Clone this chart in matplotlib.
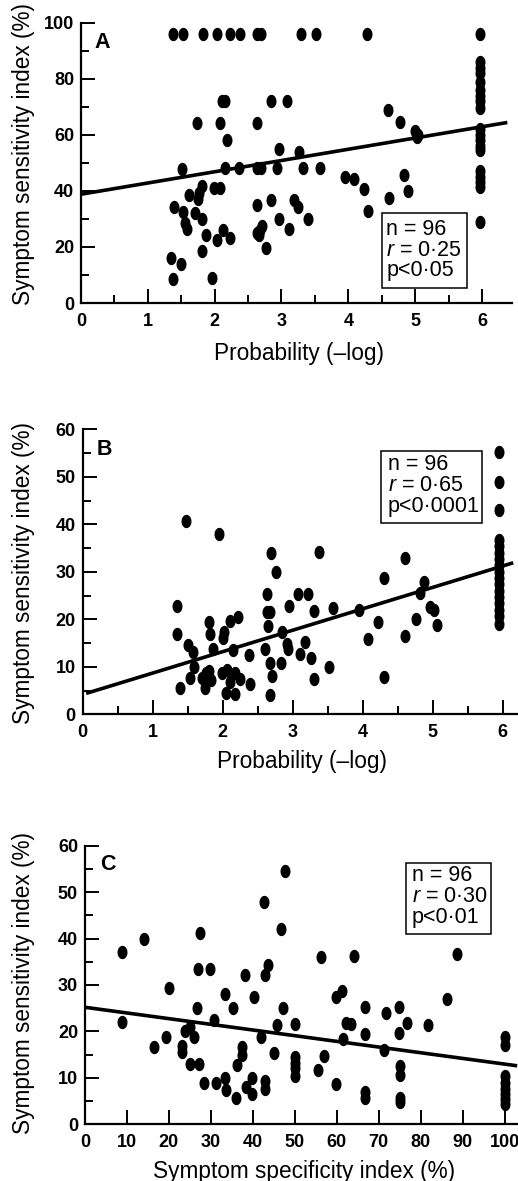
import numpy as np
import matplotlib
matplotlib.use('Agg')
import matplotlib.pyplot as plt
from matplotlib.ticker import MultipleLocator
from matplotlib.patches import Rectangle

plt.rcParams['font.family'] = ['Liberation Sans', 'DejaVu Sans']
plt.rcParams['mathtext.fontset'] = 'custom'
plt.rcParams['mathtext.it'] = 'Liberation Sans:italic'
plt.rcParams['mathtext.rm'] = 'Liberation Sans'

# ---------------- Panel A data ----------------
a_top_x = [1.37, 1.52, 1.82, 2.04, 2.23, 2.38, 2.64, 2.70, 3.29, 3.52, 4.28]
a_top_y = [95.8] * len(a_top_x)
a_col_y = [96, 86, 84, 82, 79, 76, 74, 72, 69.5, 62, 60, 58, 56, 54.5,
           47, 45, 43, 41.5, 29]
a_col_x = [5.97] * len(a_col_y)
a_x = [1.39, 1.34, 1.37, 1.49, 1.51, 1.53, 1.56, 1.59, 1.62, 1.71, 1.74, 1.75,
       1.77, 1.81, 1.81, 1.87, 1.81, 1.96, 1.99, 2.08, 2.04, 2.08, 2.11, 2.16,
       2.12, 2.18, 2.16, 2.23, 2.37, 2.63, 2.63, 2.69, 2.63, 2.63, 2.67, 2.71,
       2.68, 2.77, 2.84, 2.85, 2.93, 2.96, 2.96, 3.09, 3.11, 3.19, 3.25, 3.26,
       3.32, 3.39, 3.58, 3.95, 4.09, 4.24, 4.30, 4.60, 4.61, 4.77, 4.83, 4.89,
       5.00, 5.05, 5.03]
a_y = [34.1, 16.0, 8.7, 14.0, 47.9, 32.4, 28.7, 26.4, 38.6, 32.1, 64.1, 37.0,
       39.2, 41.6, 30.0, 24.2, 18.6, 8.9, 41.2, 41.2, 22.3, 64.1, 71.9, 71.9,
       26.1, 58.2, 48.1, 23.2, 48.1, 64.1, 48.1, 48.1, 35.0, 24.9, 24.2, 27.3,
       26.1, 19.6, 71.9, 36.8, 48.1, 54.9, 30.0, 71.9, 26.4, 36.8, 34.4, 54.0,
       48.1, 29.9, 48.1, 44.9, 44.2, 40.6, 32.7, 68.9, 37.6, 64.7, 45.7, 39.8,
       61.2, 60.0, 59.4]
a_fit_x = [0.0, 6.38]
a_fit_y = [38.8, 64.4]
a_stats = ["n = 96", "$\\mathit{r}$ = 0·25", "p<0·05"]

# ---------------- Panel B data ----------------
b_col_y = [55.3, 49.0, 43.0, 36.7, 35.4, 34.0, 32.7, 31.4, 30.0, 28.7, 27.4,
           26.0, 24.7, 23.4, 22.0, 20.7, 19.1]
b_col_x = [5.95] * len(b_col_y)
b_x = [1.47, 1.94, 1.35, 1.34, 1.39, 1.51, 1.57, 1.53, 1.59, 1.71, 1.75, 1.76,
       1.80, 1.82, 1.81, 1.86, 1.83, 2.02, 2.00, 1.99, 2.06, 2.05, 2.10, 2.10,
       2.15, 2.17, 2.18, 2.22, 2.25, 2.37, 2.39, 2.60, 2.63, 2.63, 2.68, 2.65,
       2.67, 2.69, 2.68, 2.70, 2.76, 2.84, 2.83, 2.94, 2.92, 2.93, 3.08, 3.10,
       3.18, 3.22, 3.26, 3.30, 3.30, 3.37, 3.52, 3.57, 3.95, 4.08, 4.22, 4.30,
       4.30, 4.60, 4.60, 4.76, 4.82, 4.87, 4.96, 5.02, 5.06]
b_y = [40.6, 38.0, 22.7, 16.9, 5.5, 14.5, 13.2, 7.6, 10.0, 7.6, 5.5, 8.6,
       19.5, 16.9, 9.2, 13.7, 7.2, 17.4, 16.0, 8.8, 9.3, 4.4, 6.9, 19.7,
       13.5, 4.3, 8.8, 20.4, 7.4, 12.5, 6.4, 13.7, 25.3, 21.6, 21.6, 18.5,
       4.1, 34.0, 10.7, 8.1, 30.0, 17.4, 10.7, 22.7, 14.9, 13.7, 25.3, 12.7,
       15.3, 25.3, 11.8, 7.4, 21.8, 34.2, 10.0, 22.3, 22.0, 15.8, 19.5, 28.6,
       7.8, 33.0, 16.4, 20.0, 25.6, 27.9, 22.5, 22.0, 18.8]
b_fit_x = [0.05, 6.15]
b_fit_y = [4.4, 31.9]
b_stats = ["n = 96", "$\\mathit{r}$ = 0·65", "p<0·0001"]

# ---------------- Panel C data ----------------
c_x = [8.9, 8.9, 14.0, 16.5, 20.1, 19.2, 23.1, 23.1, 23.8, 25.0, 25.0, 25.9,
       26.6, 27.0, 27.4, 27.1, 28.3, 29.8, 30.8, 31.2, 33.3, 33.3, 33.5, 35.2,
       35.9, 36.3, 37.3, 37.5, 38.1, 38.3, 39.8, 39.8, 40.2, 41.9, 42.6, 43.0,
       43.5, 42.9, 42.9, 45.8, 45.0, 46.8, 47.1, 47.6, 50.0, 50.0, 50.0, 50.0,
       50.0, 55.6, 56.2, 56.9, 59.8, 59.9, 61.3, 61.5, 62.3, 63.5, 64.0, 66.7,
       66.7, 66.8, 66.8, 71.2, 71.8, 74.8, 74.8, 75.0, 75.0, 75.0, 75.0, 76.7,
       81.7, 86.3, 88.7, 100, 100, 100, 100, 100, 100, 100, 100]
c_y = [37.2, 22.1, 39.8, 16.6, 29.4, 18.9, 16.9, 15.5, 20.0, 21.0, 13.0, 18.9,
       25.0, 33.5, 41.3, 13.0, 9.0, 33.5, 22.5, 9.0, 28.1, 9.9, 7.4, 25.0,
       5.6, 12.8, 16.7, 14.9, 32.2, 8.1, 9.9, 6.5, 27.4, 18.9, 47.8, 32.2,
       34.2, 9.3, 7.5, 21.4, 15.4, 42.0, 25.0, 54.6, 21.5, 14.6, 13.3, 12.1,
       10.4, 11.6, 36.1, 14.8, 27.5, 8.7, 28.7, 18.3, 21.8, 21.5, 36.3, 25.2,
       19.5, 7.0, 5.6, 15.9, 24.0, 25.2, 19.6, 12.6, 10.6, 5.6, 4.7, 21.9,
       21.4, 26.9, 36.7, 18.7, 17.1, 10.3, 8.8, 7.6, 6.5, 5.4, 4.4]
c_fit_x = [0.0, 103.0]
c_fit_y = [25.2, 12.6]
c_stats = ["n = 96", "$\\mathit{r}$ = 0·30", "p<0·01"]

ylabel_text = "Symptom sensitivity index (%)"

# ellipse marker (dots in the scan are slightly taller than wide)
t = np.linspace(0, 2 * np.pi, 48)
ell = list(zip(0.75 * np.cos(t), np.sin(t)))

fig = plt.figure(figsize=(5.18, 11.81), dpi=100)

TICK_FS = 13
LABEL_FS = 16.3
STAT_FS = 15.5


def panel(rect, xs, ys, fx, fy, xlim, ylim, xmaj, xmin, ymaj, ymin,
          letter, letter_pos, stats, box, text_x, text_ys, xlabel,
          ylab_pos, xlab_pos):
    ax = fig.add_axes(rect)
    ax.plot(xs, ys, linestyle='none', marker=ell, markersize=9.6,
            color='black', markeredgewidth=0, clip_on=False)
    ax.plot(fx, fy, color='black', lw=2.6, solid_capstyle='butt', clip_on=False)
    ax.set_xlim(*xlim)
    ax.set_ylim(*ylim)
    for s in ['top', 'right']:
        ax.spines[s].set_visible(False)
    for s in ['left', 'bottom']:
        ax.spines[s].set_linewidth(1.6)
    ax.xaxis.set_major_locator(MultipleLocator(xmaj))
    if xmin:
        ax.xaxis.set_minor_locator(MultipleLocator(xmin))
    ax.yaxis.set_major_locator(MultipleLocator(ymaj))
    ax.yaxis.set_minor_locator(MultipleLocator(ymin))
    ax.tick_params(which='major', direction='in', length=10, width=1.4)
    ax.tick_params(which='minor', direction='in', length=5.8, width=1.4)
    ax.tick_params(axis='x', which='major', pad=7)
    ax.tick_params(axis='y', which='major', pad=5)
    ax.set_xticks([v for v in ax.get_xticks() if xlim[0] <= v <= xlim[1] - 0.01])
    ax.set_yticks([v for v in ax.get_yticks() if ylim[0] <= v <= ylim[1]])
    for lab in ax.get_xticklabels() + ax.get_yticklabels():
        lab.set_fontweight('bold')
        lab.set_fontsize(TICK_FS)
    ax.set_ylabel(ylabel_text, fontsize=LABEL_FS)
    ax.yaxis.set_label_coords(*ylab_pos)
    ax.set_xlabel(xlabel, fontsize=LABEL_FS)
    ax.xaxis.set_label_coords(*xlab_pos)
    ax.text(letter_pos[0], letter_pos[1], letter, transform=ax.transAxes,
            fontsize=15.5, fontweight='bold', ha='left', va='top')
    x0, y0, x1, y1 = box
    ax.add_patch(Rectangle((x0, y1), x1 - x0, y0 - y1, fill=False,
                           edgecolor='black', lw=1.1, zorder=3))
    for s, ty in zip(stats, text_ys):
        ax.text(text_x, ty, s, fontsize=STAT_FS, ha='left', va='center')
    return ax


panel([81 / 518, 1 - 303 / 1181, (512 - 81) / 518, (303 - 22.7) / 1181],
      a_top_x + a_col_x + a_x, a_top_y + a_col_y + a_y, a_fit_x, a_fit_y,
      (0, 6.45), (0, 100), 1, 0.5, 20, 10,
      'A', (0.032, 0.968), a_stats, (4.50, 32.1, 5.77, 5.4), 4.57,
      [26.3, 18.9, 11.5], 'Probability (–log)', (-0.107, 0.53), (0.506, -0.139))

panel([82.7 / 518, 1 - 714.3 / 1181, 434 / 518, 285 / 1181],
      b_col_x + b_x, b_col_y + b_y, b_fit_x, b_fit_y,
      (0, 6.2), (0, 60), 1, 0.5, 10, 5,
      'B', (0.032, 0.966), b_stats, (4.26, 55.4, 5.70, 40.2), 4.36,
      [52.5, 48.1, 43.7], 'Probability (–log)', (-0.11, 0.496), (0.505, -0.125))

panel([85 / 518, 1 - 1124.3 / 1181, 433 / 518, 278.6 / 1181],
      c_x, c_y, c_fit_x, c_fit_y,
      (0, 103.2), (0, 60), 10, None, 10, 5,
      'C', (0.035, 0.97), c_stats, (76.4, 56.3, 96.7, 40.9), 77.9,
      [53.5, 49.0, 44.6], 'Symptom specificity index (%)', (-0.115, 0.507),
      (0.507, -0.128))

fig.savefig('out.png', dpi=100)
